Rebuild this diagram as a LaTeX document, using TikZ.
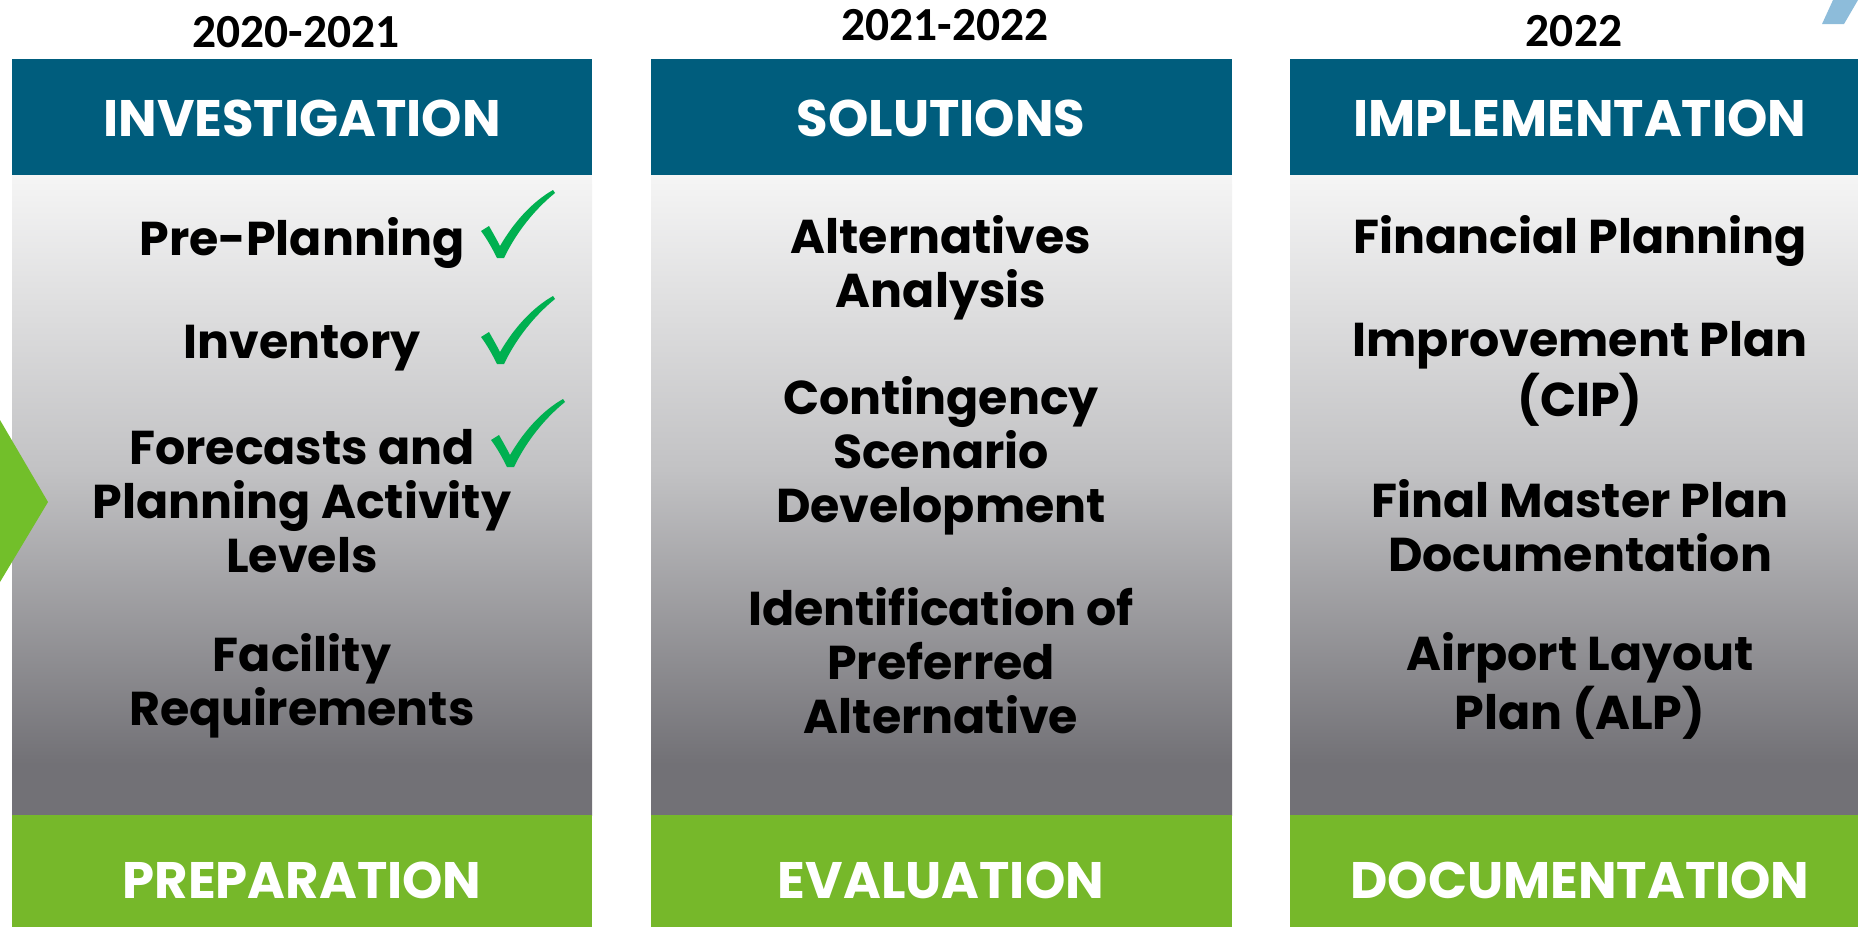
\documentclass[tikz,border=0pt]{standalone}
\usepackage{fontspec}
\setmainfont{Poppins}
\newfontfamily\yearfont{Carlito}
\definecolor{headblue}{HTML}{005D7D}
\definecolor{footgreen}{HTML}{76B82A}
\definecolor{arrowgreen}{HTML}{72BF2A}
\definecolor{checkgreen}{HTML}{00B050}
\definecolor{topgray}{HTML}{F5F5F5}
\definecolor{midgray}{HTML}{C2C2C4}
\definecolor{lowgray}{HTML}{727176}
\definecolor{paleblue}{HTML}{8DBCDA}
\pgfdeclareverticalshading{colshade}{100bp}{color(0bp)=(lowgray); color(25bp)=(lowgray); color(29bp)=(lowgray); color(52bp)=(midgray); color(75bp)=(topgray); color(100bp)=(topgray)}
\newcommand{\greencheck}[1]{\fill[checkgreen,shift={#1}] (-19,-26) -- (-11,-31) .. controls (-7,-24) and (-3,-17) .. (0,-11) .. controls (14,-35) and (32,-55) .. (53,-67) -- (55,-64) .. controls (34,-47) and (16,-24) .. (4,1) -- (-3,1) .. controls (-8,-9) and (-13,-18) .. (-19,-26) -- cycle;}

\begin{document}
\begin{tikzpicture}[x=0.01cm,y=-0.01cm]
    \tikzstyle{year}=[inner sep=0pt, font=\yearfont\bfseries\fontsize{13.5}{16}\selectfont]
    \tikzstyle{head}=[inner sep=0pt, text=white, font=\bfseries\fontsize{14.6}{17}\selectfont]
    \tikzstyle{item}=[inner sep=0pt, align=center, font=\bfseries\fontsize{13.5}{15.4}\selectfont]
    \useasboundingbox (0,0) rectangle (1858,927);

    % column backgrounds
    \fill[headblue] (12,59) rectangle (592,175);
    \shade[shading=colshade] (12,175) rectangle (592,815);
    \fill[footgreen] (12,815) rectangle (592,927);

    \fill[headblue] (651,59) rectangle (1232,175);
    \shade[shading=colshade] (651,175) rectangle (1232,815);
    \fill[footgreen] (651,815) rectangle (1232,927);

    \fill[headblue] (1290,59) rectangle (1858,175);
    \shade[shading=colshade] (1290,175) rectangle (1858,815);
    \fill[footgreen] (1290,815) rectangle (1858,927);

    \fill[arrowgreen] (0,420) -- (48,502) -- (0,582) -- cycle;
    \fill[paleblue] (1822,24) -- (1844,24) -- (1858,0) -- (1833,0) -- cycle;

    % years
    \node[year] (yr1) at (296,32) {2020-2021};
    \node[year] (yr2) at (945,25) {2021-2022};
    \node[year] (yr3) at (1574,31) {2022};

    % headers and footers
    \node[head] (investigation)  at (302,118)  {INVESTIGATION};
    \node[head] (solutions)      at (941,118)  {SOLUTIONS};
    \node[head] (implementation) at (1580,118) {IMPLEMENTATION};
    \node[head] (preparation)    at (302,880)  {PREPARATION};
    \node[head] (evaluation)     at (941,880)  {EVALUATION};
    \node[head] (documentation)  at (1580,880) {DOCUMENTATION};

    % investigation steps
    \node[item] (preplan)   at (302,243) {Pre-Planning};
    \node[item] (inventory) at (302,348) {Inventory};
    \node[item] (forecasts) at (302,501) {Forecasts and\\Planning Activity\\Levels};
    \node[item] (facility)  at (302,686) {Facility\\Requirements};
    \greencheck{(500,257)}
    \greencheck{(500,363)}
    \greencheck{(510,466)}

    % solutions steps
    \node[item] (altanalysis) at (941,268) {Alternatives\\Analysis};
    \node[item] (contingency) at (941,456) {Contingency\\Scenario\\Development};
    \node[item] (preferred)   at (941,661) {Identification of\\Preferred\\Alternative};

    % implementation steps
    \node[item] (financial) at (1580,241) {Financial Planning};
    \node[item] (cip)       at (1580,374) {Improvement Plan\\(CIP)};
    \node[item] (finaldoc)  at (1580,526) {Final Master Plan\\Documentation};
    \node[item] (alp)       at (1580,686) {Airport Layout\\Plan (ALP)};

\end{tikzpicture}
\end{document}
